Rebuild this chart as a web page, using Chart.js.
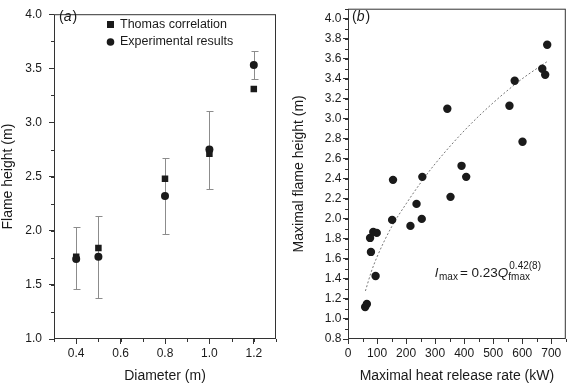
<!DOCTYPE html>
<html>
<head>
<meta charset="utf-8">
<script src="https://cdn.jsdelivr.net/npm/chart.js@4.4.1/dist/chart.umd.min.js"></script>
<style>
  body { margin: 0; background: #fff; }
  #wrap { position: relative; width: 570px; height: 385px; }
  #chart-a { position: absolute; left: 0; top: 0; }
  #chart-b { position: absolute; left: 285px; top: 0; }
</style>
</head>
<body>
<div id="wrap">
  <canvas id="chart-a" width="285" height="385"></canvas>
  <canvas id="chart-b" width="285" height="385"></canvas>
</div>
<script>
// Panel (a): flame height vs pool diameter
const diameters = [0.4, 0.5, 0.8, 1.0, 1.2]
const thomasHeights = [1.76, 1.84, 2.48, 2.71, 3.31]
const expHeights = [1.74, 1.76, 2.32, 2.75, 3.53]
const expHigh = [2.03, 2.14, 2.67, 3.11, 3.66]
const expLow = [1.46, 1.38, 1.97, 2.39, 3.40]
const xTicksA = [0.4, 0.6, 0.8, 1.0, 1.2]
const yTicksA = [1.0, 1.5, 2.0, 2.5, 3.0, 3.5, 4.0]

// Panel (b): maximal flame height vs maximal heat release rate
const heatRelease = [59, 65, 76, 79, 87, 99, 95, 155, 152, 215, 236, 254, 256, 342, 353, 391, 407, 556, 574, 601, 669, 679, 686]
const maxHeights = [1.12, 1.15, 1.81, 1.67, 1.87, 1.86, 1.43, 2.39, 1.99, 1.93, 2.15, 2.00, 2.42, 3.10, 2.22, 2.53, 2.42, 3.13, 3.38, 2.77, 3.50, 3.44, 3.74]
const fitX = [60, 80, 100, 150, 200, 250, 300, 400, 500, 600, 685]
const fitY = [1.28, 1.47, 1.62, 1.92, 2.15, 2.36, 2.55, 2.88, 3.16, 3.40, 3.57]
const xTicksB = [0, 100, 200, 300, 400, 500, 600, 700]
const yTicksB = [0.8, 1.0, 1.2, 1.4, 1.6, 1.8, 2.0, 2.2, 2.4, 2.6, 2.8, 3.0, 3.2, 3.4, 3.6, 3.8, 4.0]

const FONT = "'Liberation Sans', Arial, Helvetica, sans-serif"
const INK = "#1a1a1a"

const toPoints = (xs, ys) => xs.map((x, i) => ({ x, y: ys[i] }))

// frame round the plot area plus short minor ticks
const framePlugin = {
  id: "frame",
  afterDraw(chart, args, opts) {
    const { ctx, chartArea: a, scales } = chart
    ctx.save()
    ctx.strokeStyle = "#333"
    ctx.lineWidth = 1
    ctx.strokeRect(a.left + 0.5, a.top + 0.5, a.right - a.left - 1, a.bottom - a.top - 1)
    ctx.beginPath()
    const xs = scales.x, ys = scales.y
    for (let i = 0; ; i++) {
      const v = xs.min + i * opts.minorX
      if (v > xs.max + 1e-9) break
      const px = Math.round(xs.getPixelForValue(v)) + 0.5
      ctx.moveTo(px, a.bottom)
      ctx.lineTo(px, a.bottom + 3)
    }
    for (let i = 0; ; i++) {
      const v = ys.min + i * opts.minorY
      if (v > ys.max + 1e-9) break
      const py = Math.round(ys.getPixelForValue(v)) + 0.5
      ctx.moveTo(a.left, py)
      ctx.lineTo(a.left - 3, py)
    }
    ctx.stroke()
    ctx.restore()
  },
}

// vertical error bars behind the markers
const errorBarPlugin = {
  id: "errorBars",
  beforeDatasetsDraw(chart, args, opts) {
    if (!opts.high) return
    const { ctx, scales: { x, y } } = chart
    ctx.save()
    ctx.strokeStyle = "#8c8c8c"
    ctx.lineWidth = 1
    ctx.beginPath()
    opts.xs.forEach((xv, i) => {
      const px = Math.round(x.getPixelForValue(xv)) + 0.5
      const top = Math.round(y.getPixelForValue(opts.high[i])) + 0.5
      const bottom = Math.round(y.getPixelForValue(opts.low[i])) + 0.5
      ctx.moveTo(px, top)
      ctx.lineTo(px, bottom)
      ctx.moveTo(px - 3, top)
      ctx.lineTo(px + 4, top)
      ctx.moveTo(px - 3, bottom)
      ctx.lineTo(px + 4, bottom)
    })
    ctx.stroke()
    ctx.restore()
  },
}

// panel letter like "(a)" with italic letter
function drawPanelLabel(ctx, letter, x, y) {
  ctx.textBaseline = "middle"
  ctx.textAlign = "left"
  ctx.font = `14px ${FONT}`
  ctx.fillText("(", x, y)
  let w = ctx.measureText("(").width
  ctx.font = `italic 14px ${FONT}`
  ctx.fillText(letter, x + w, y)
  w += ctx.measureText(letter).width + 1
  ctx.font = `14px ${FONT}`
  ctx.fillText(")", x + w, y)
}

function axisOptions(min, max, ticks, title, extra) {
  return {
    type: "linear",
    min,
    max,
    afterBuildTicks: (scale) => {
      scale.ticks = ticks.map((v) => ({ value: v }))
    },
    ticks: {
      color: INK,
      font: { family: FONT, size: 12 },
      callback: (v) => extra.fmt(v),
      padding: extra.padding,
      maxRotation: 0,
      autoSkip: false,
    },
    grid: { display: true, drawOnChartArea: false, tickLength: 5, tickColor: "#333" },
    border: { display: false },
    title: {
      display: true,
      text: title,
      color: INK,
      font: { family: FONT, size: 14 },
      padding: extra.titlePad,
    },
    afterFit: extra.afterFit,
  }
}

function initFlameChart() {
  const el = document.getElementById("chart-a")
  new Chart(el, {
    type: "scatter",
    data: {
      datasets: [
        {
          label: "Experimental results",
          data: toPoints(diameters, expHeights),
          pointStyle: "circle",
          pointRadius: 4,
          backgroundColor: INK,
          borderWidth: 0,
          order: 0,
        },
        {
          label: "Thomas correlation",
          data: toPoints(diameters, thomasHeights),
          pointStyle: "rect",
          pointRadius: 4.6,
          backgroundColor: INK,
          borderWidth: 0,
          order: 1,
        },
      ],
    },
    options: {
      responsive: false,
      animation: false,
      layout: { padding: { top: 5, right: 9, left: 0, bottom: 0 } },
      plugins: {
        legend: { display: false },
        tooltip: { enabled: false },
        frame: { minorX: 0.1, minorY: 0.25 },
        errorBars: { xs: diameters, high: expHigh, low: expLow },
      },
      scales: {
        x: axisOptions(0.3, 1.3, xTicksA, "Diameter (m)", {
          fmt: (v) => v.toFixed(1),
          padding: 2,
          titlePad: { top: 0, bottom: 0 },
          afterFit: (s) => { s.height = 46 },
        }),
        y: axisOptions(1.0, 4.0, yTicksA, "Flame height (m)", {
          fmt: (v) => v.toFixed(1),
          padding: 7,
          titlePad: { top: 0, bottom: 0 },
          afterFit: (s) => { s.width = 54 },
        }),
      },
    },
    plugins: [
      framePlugin,
      errorBarPlugin,
      {
        id: "legendA",
        afterDraw(chart) {
          const ctx = chart.ctx
          ctx.save()
          ctx.fillStyle = INK
          ctx.fillRect(107, 21, 7, 7)
          ctx.beginPath()
          ctx.arc(110.5, 42, 3.8, 0, Math.PI * 2)
          ctx.fill()
          ctx.font = `12.5px ${FONT}`
          ctx.textBaseline = "middle"
          ctx.fillText(chart.data.datasets[1].label, 120, 25)
          ctx.fillText(chart.data.datasets[0].label, 120, 42)
          drawPanelLabel(ctx, "a", 59, 17)
          ctx.restore()
        },
      },
    ],
  })
}

function initHeatChart() {
  const el = document.getElementById("chart-b")
  new Chart(el, {
    type: "scatter",
    data: {
      datasets: [
        {
          label: "Experimental",
          data: toPoints(heatRelease, maxHeights),
          pointStyle: "circle",
          pointRadius: 4.2,
          backgroundColor: INK,
          borderWidth: 0,
        },
        {
          label: "Fit",
          data: toPoints(fitX, fitY),
          showLine: true,
          borderColor: "#777",
          borderWidth: 1,
          borderDash: [2, 2],
          cubicInterpolationMode: "monotone",
          pointRadius: 0,
        },
      ],
    },
    options: {
      responsive: false,
      animation: false,
      layout: { padding: { top: 5, right: 1, left: 0, bottom: 0 } },
      plugins: {
        legend: { display: false },
        tooltip: { enabled: false },
        frame: { minorX: 50, minorY: 0.1 },
      },
      scales: {
        x: axisOptions(0, 750, xTicksB, "Maximal heat release rate (kW)", {
          fmt: (v) => String(v),
          padding: 2,
          titlePad: { top: 0, bottom: 0 },
          afterFit: (s) => { s.height = 46 },
        }),
        y: axisOptions(0.8, 4.1, yTicksB, "Maximal flame height (m)", {
          fmt: (v) => v.toFixed(1),
          padding: 1.5,
          titlePad: { top: 5.5, bottom: 0 },
          afterFit: (s) => { s.width = 63 },
        }),
      },
    },
    plugins: [
      framePlugin,
      {
        id: "formulaB",
        afterDraw(chart) {
          const ctx = chart.ctx
          ctx.save()
          ctx.fillStyle = INK
          ctx.textBaseline = "alphabetic"
          let x = 150
          const base = 277
          ctx.font = `italic 13.5px ${FONT}`
          ctx.fillText("l", x, base)
          x += ctx.measureText("l").width + 1
          ctx.font = `10px ${FONT}`
          ctx.fillText("max", x, base + 3)
          x += ctx.measureText("max").width + 2
          ctx.font = `13.5px ${FONT}`
          ctx.fillText("= 0.23", x, base)
          x += ctx.measureText("= 0.23").width
          ctx.font = `italic 13.5px ${FONT}`
          ctx.fillText("Q", x, base)
          x += ctx.measureText("Q").width
          ctx.font = `10px ${FONT}`
          ctx.fillText("fmax", x, base + 3)
          ctx.fillText("0.42(8)", x + 1, base - 8)
          drawPanelLabel(ctx, "b", 67, 17)
          ctx.restore()
        },
      },
    ],
  })
}

initFlameChart()
initHeatChart()
</script>
</body>
</html>
